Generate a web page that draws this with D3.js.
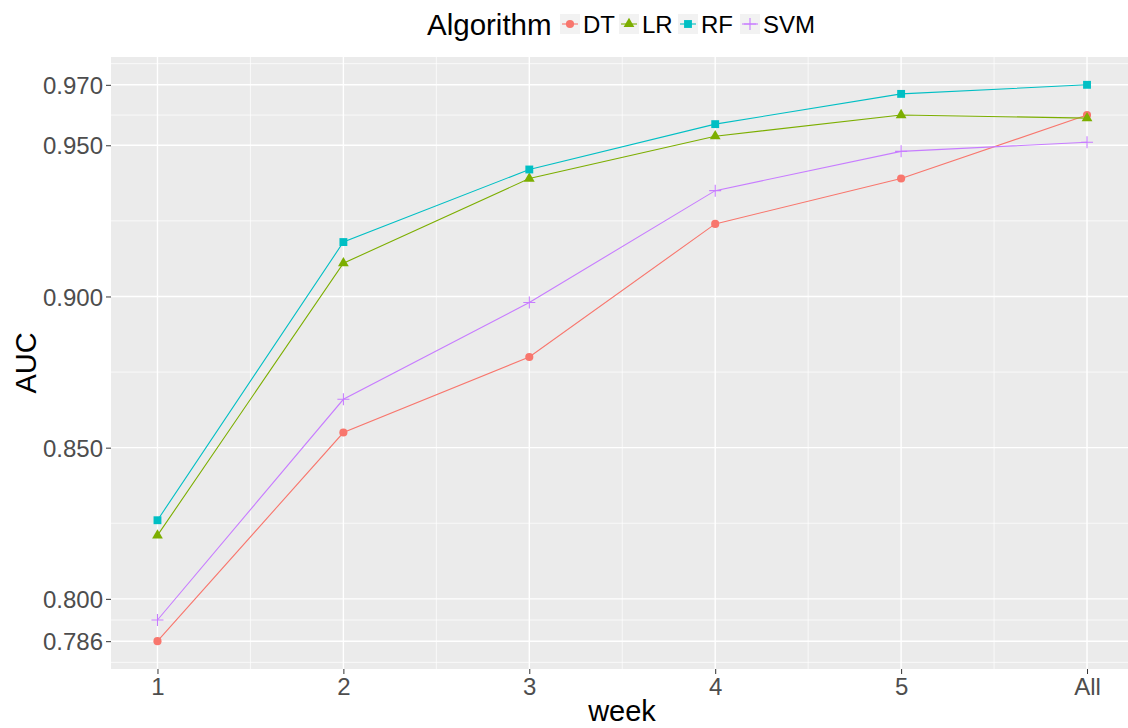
<!DOCTYPE html>
<html>
<head>
<meta charset="utf-8">
<script src="https://cdn.jsdelivr.net/npm/d3@7"></script>
<style>
  body { margin: 0; background: #fff; }
  svg { display: block; font-family: "Liberation Sans", Arial, sans-serif; }
</style>
</head>
<body>
<svg width="1128" height="728"></svg>
<script>
// data
let weeks = ["1", "2", "3", "4", "5", "All"];
let algorithms = ["DT", "LR", "RF", "SVM"];
let dtAuc  = [0.786, 0.855, 0.880, 0.924, 0.939, 0.960];
let lrAuc  = [0.821, 0.911, 0.939, 0.953, 0.960, 0.959];
let rfAuc  = [0.826, 0.918, 0.942, 0.957, 0.967, 0.970];
let svmAuc = [0.793, 0.866, 0.898, 0.935, 0.948, 0.951];
let yBreaks = [0.786, 0.800, 0.850, 0.900, 0.950, 0.970];

let series = [dtAuc, lrAuc, rfAuc, svmAuc];
let colors = ["#F8766D", "#7CAE00", "#00BFC4", "#C77CFF"];

let svg = d3.select("svg");

// panel box
let pLeft = 111, pRight = 1133.5, pTop = 57, pBottom = 669;

// x is continuous 1..6 with ggplot's 5% expansion
let xScale = d3.scaleLinear()
    .domain([0.75, 6.25])
    .range([pLeft, pRight]);

let yMin = d3.min(series, s => d3.min(s)), yMax = d3.max(series, s => d3.max(s));
let yPad = (yMax - yMin) * 0.05;
let yScale = d3.scaleLinear()
    .domain([yMin - yPad, yMax + yPad])
    .range([pBottom, pTop]);

// minor breaks like ggplot's regular_minor_breaks
let bd = yBreaks[1] - yBreaks[0];
let yb = [yBreaks[0] - bd].concat(yBreaks, [yBreaks[yBreaks.length - 1] + bd]);
let yMinor = [];
for (let i = 0; i < yb.length - 1; i++) yMinor.push((yb[i] + yb[i + 1]) / 2);
yMinor = yMinor.filter(v => v > yScale.domain()[0] && v < yScale.domain()[1]);
let xMinor = [1.5, 2.5, 3.5, 4.5, 5.5];

// background
svg.append("rect")
    .attr("x", pLeft).attr("y", pTop)
    .attr("width", pRight - pLeft).attr("height", pBottom - pTop)
    .attr("fill", "#EBEBEB");

let grid = svg.append("g");
grid.selectAll(".ymin").data(yMinor).enter().append("line")
    .attr("x1", pLeft).attr("x2", pRight)
    .attr("y1", d => yScale(d)).attr("y2", d => yScale(d))
    .attr("stroke", "#fff").attr("stroke-width", 0.7);
grid.selectAll(".xmin").data(xMinor).enter().append("line")
    .attr("y1", pTop).attr("y2", pBottom)
    .attr("x1", d => xScale(d)).attr("x2", d => xScale(d))
    .attr("stroke", "#fff").attr("stroke-width", 0.7);
grid.selectAll(".ymaj").data(yBreaks).enter().append("line")
    .attr("x1", pLeft).attr("x2", pRight)
    .attr("y1", d => yScale(d)).attr("y2", d => yScale(d))
    .attr("stroke", "#fff").attr("stroke-width", 1.4);
grid.selectAll(".xmaj").data(weeks).enter().append("line")
    .attr("y1", pTop).attr("y2", pBottom)
    .attr("x1", (d, i) => xScale(i + 1)).attr("x2", (d, i) => xScale(i + 1))
    .attr("stroke", "#fff").attr("stroke-width", 1.4);

// axes
let xAxis = d3.axisBottom(xScale)
    .tickValues(d3.range(1, weeks.length + 1))
    .tickFormat(d => weeks[d - 1])
    .tickSize(5).tickPadding(4);
let gx = svg.append("g")
    .attr("transform", `translate(0,${pBottom})`)
    .call(xAxis);

let yAxis = d3.axisLeft(yScale)
    .tickValues(yBreaks)
    .tickFormat(d3.format(".3f"))
    .tickSize(5).tickPadding(3);
let gy = svg.append("g")
    .attr("transform", `translate(${pLeft},0)`)
    .call(yAxis);

[gx, gy].forEach(g => {
    g.select(".domain").remove();
    g.selectAll(".tick line").attr("stroke", "#333").attr("stroke-width", 1);
    g.selectAll(".tick text")
        .attr("fill", "#4D4D4D")
        .style("font-size", "24px")
        .style("font-family", "'Liberation Sans', Arial, sans-serif");
});
gy.selectAll(".tick text").attr("dy", "0.36em");

// axis titles
svg.append("text")
    .attr("x", 622)
    .attr("y", 721)
    .attr("text-anchor", "middle")
    .style("font-size", "29px")
    .text("week");

svg.append("text")
    .attr("transform", "translate(36,363) rotate(-90)")
    .attr("text-anchor", "middle")
    .style("font-size", "29px")
    .text("AUC");

// plus shape
let plusPath = (s) => `M${-s},0H${s}M0,${-s}V${s}`;
let symbolFor = [
    d3.symbol().type(d3.symbolCircle).size(52)(),
    d3.symbol().type(d3.symbolTriangle).size(50)(),
    d3.symbol().type(d3.symbolSquare).size(62)(),
    plusPath(6)
];

// lines
let line = d3.line()
    .x((d, i) => xScale(i + 1))
    .y(d => yScale(d));

svg.append("g")
    .selectAll("path")
    .data(series)
    .enter()
    .append("path")
    .attr("d", d => line(d))
    .attr("fill", "none")
    .attr("stroke", (d, i) => colors[i])
    .attr("stroke-width", 1.1);

// points
series.forEach((s, k) => {
    svg.append("g")
        .selectAll("path")
        .data(s)
        .enter()
        .append("path")
        .attr("transform", (d, i) => `translate(${xScale(i + 1)},${yScale(d)})`)
        .attr("d", symbolFor[k])
        .attr("fill", k == 3 ? "none" : colors[k])
        .attr("stroke", k == 3 ? colors[k] : "none")
        .attr("stroke-width", 1.1);
});

// --------------- //
// LEGEND //
// --------------- //
svg.append("text")
    .attr("x", 427)
    .attr("y", 35)
    .style("font-size", "29.5px")
    .text("Algorithm");

let keyX = [560, 619, 678, 740];
let legend = svg.append("g")
    .selectAll("g")
    .data(algorithms)
    .enter()
    .append("g")
    .attr("transform", (d, i) => `translate(${keyX[i]},14)`);

legend.append("rect")
    .attr("width", 20).attr("height", 20)
    .attr("fill", "#F2F2F2");
legend.append("line")
    .attr("x1", 2).attr("x2", 18).attr("y1", 10).attr("y2", 10)
    .attr("stroke", (d, i) => colors[i]).attr("stroke-width", 1.1);
legend.append("path")
    .attr("transform", "translate(10,10)")
    .attr("d", (d, i) => symbolFor[i])
    .attr("fill", (d, i) => i == 3 ? "none" : colors[i])
    .attr("stroke", (d, i) => i == 3 ? colors[i] : "none")
    .attr("stroke-width", 1.1);
legend.append("text")
    .attr("x", 23)
    .attr("y", 19)
    .style("font-size", "24px")
    .text(d => d);
</script>
</body>
</html>
